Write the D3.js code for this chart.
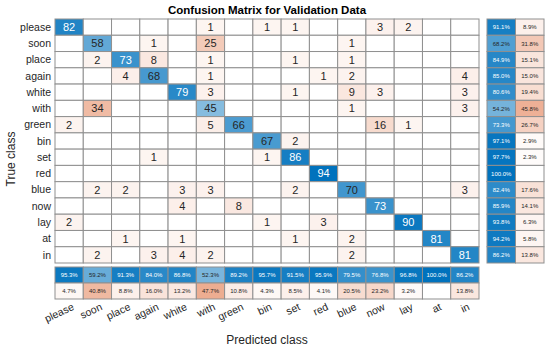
<!DOCTYPE html>
<html>
<head>
<meta charset="utf-8">
<script src="https://cdn.jsdelivr.net/npm/d3@7"></script>
<style>
  body { margin: 0; background: #fff; }
  svg { font-family: "Liberation Sans", Arial, sans-serif; }
</style>
</head>
<body>
<div id="chart"></div>
<script>
// class names, shared by both axes
const classes = ['please', 'soon', 'place', 'again', 'white', 'with', 'green', 'bin', 'set', 'red', 'blue', 'now', 'lay', 'at', 'in'];

// confusion counts, rows = true class, cols = predicted class
const counts = [
    [82, 0, 0, 0, 0, 1, 0, 1, 1, 0, 0, 3, 2, 0, 0],
    [0, 58, 0, 1, 0, 25, 0, 0, 0, 0, 1, 0, 0, 0, 0],
    [0, 2, 73, 8, 0, 1, 0, 0, 1, 0, 1, 0, 0, 0, 0],
    [0, 0, 4, 68, 0, 1, 0, 0, 0, 1, 2, 0, 0, 0, 4],
    [0, 0, 0, 0, 79, 3, 0, 0, 1, 0, 9, 3, 0, 0, 3],
    [0, 34, 0, 0, 0, 45, 0, 0, 0, 0, 1, 0, 0, 0, 3],
    [2, 0, 0, 0, 0, 5, 66, 0, 0, 0, 0, 16, 1, 0, 0],
    [0, 0, 0, 0, 0, 0, 0, 67, 2, 0, 0, 0, 0, 0, 0],
    [0, 0, 0, 1, 0, 0, 0, 1, 86, 0, 0, 0, 0, 0, 0],
    [0, 0, 0, 0, 0, 0, 0, 0, 0, 94, 0, 0, 0, 0, 0],
    [0, 2, 2, 0, 3, 3, 0, 0, 2, 0, 70, 0, 0, 0, 3],
    [0, 0, 0, 0, 4, 0, 8, 0, 0, 0, 0, 73, 0, 0, 0],
    [2, 0, 0, 0, 0, 0, 0, 1, 0, 3, 0, 0, 90, 0, 0],
    [0, 0, 1, 0, 1, 0, 0, 0, 1, 0, 2, 0, 0, 81, 0],
    [0, 2, 0, 3, 4, 2, 0, 0, 0, 0, 2, 0, 0, 0, 81]
];

// row summary (per true class) and column summary (per predicted class), in percent
const rowCorrect = [91.1, 68.2, 84.9, 85.0, 80.6, 54.2, 73.3, 97.1, 97.7, 100.0, 82.4, 85.9, 93.8, 94.2, 86.2];
const rowWrong = [8.9, 31.8, 15.1, 15.0, 19.4, 45.8, 26.7, 2.9, 2.3, 0, 17.6, 14.1, 6.3, 5.8, 13.8];
const colCorrect = [95.3, 59.2, 91.3, 84.0, 86.8, 52.3, 89.2, 95.7, 91.5, 95.9, 79.5, 76.8, 96.8, 100.0, 86.2];
const colWrong = [4.7, 40.8, 8.8, 16.0, 13.2, 47.7, 10.8, 4.3, 8.5, 4.1, 20.5, 23.2, 3.2, 0, 13.8];

const width = 550, height = 351;
const grid = { left: 55, top: 19, right: 479, bottom: 263 };
const blue = '#0072bd', orange = '#d95319';
const textColor = '#262626', lineColor = '#8f8f8f';

const svg = d3.select('#chart').append('svg')
    .attr('width', width)
    .attr('height', height);

const x = d3.scaleBand().domain(classes).range([grid.left, grid.right]);
const y = d3.scaleBand().domain(classes).range([grid.top, grid.bottom]);
const maxCount = d3.max(counts.flat());

const blueScale = d3.interpolateRgb('#ffffff', blue);
const orangeScale = d3.interpolateRgb('#ffffff', orange);

const cells = [];
counts.forEach((row, i) => row.forEach((v, j) => {
    cells.push({ t: classes[i], p: classes[j], v, diag: i === j });
}));

function cellFill(d) {
    if (d.v === 0) return '#ffffff';
    const k = d.v / maxCount;
    return d.diag ? blueScale(k) : orangeScale(0.05 + 0.95 * k);
}

const main = svg.append('g').attr('class', 'main');

main.selectAll('rect.cell')
    .data(cells)
    .enter()
    .append('rect')
    .attr('class', 'cell')
    .attr('x', d => x(d.p))
    .attr('y', d => y(d.t))
    .attr('width', x.bandwidth())
    .attr('height', y.bandwidth())
    .attr('fill', cellFill)
    .attr('stroke', lineColor)
    .attr('stroke-width', 1);

main.selectAll('text.val')
    .data(cells.filter(d => d.v > 0))
    .enter()
    .append('text')
    .attr('class', 'val')
    .attr('x', d => x(d.p) + x.bandwidth() / 2)
    .attr('y', d => y(d.t) + y.bandwidth() / 2)
    .attr('dy', '0.36em')
    .attr('text-anchor', 'middle')
    .attr('font-size', 11)
    .attr('fill', d => (d.diag && d.v / maxCount > 0.76) ? '#ffffff' : textColor)
    .text(d => d.v);

// row summary on the right
const sx = d3.scaleBand().domain(['ok', 'bad']).range([487, 544]);
const rowSum = classes.map((c, i) => [
    { c, k: 'ok', pct: rowCorrect[i] },
    { c, k: 'bad', pct: rowWrong[i] }
]).flat();

function sumFill(d) {
    if (d.pct === 0) return '#ffffff';
    return d.k === 'ok' ? blueScale(d.pct / 100) : orangeScale(d.pct / 100);
}
function sumText(d) {
    return (d.k === 'ok' && d.pct > 70) ? '#ffffff' : textColor;
}

const right = svg.append('g');
right.selectAll('rect')
    .data(rowSum)
    .enter()
    .append('rect')
    .attr('x', d => sx(d.k))
    .attr('y', d => y(d.c))
    .attr('width', sx.bandwidth())
    .attr('height', y.bandwidth())
    .attr('fill', sumFill)
    .attr('stroke', lineColor);

right.selectAll('text')
    .data(rowSum.filter(d => d.pct > 0))
    .enter()
    .append('text')
    .attr('x', d => sx(d.k) + sx.bandwidth() / 2)
    .attr('y', d => y(d.c) + y.bandwidth() / 2)
    .attr('dy', '0.35em')
    .attr('text-anchor', 'middle')
    .attr('font-size', 6)
    .attr('fill', sumText)
    .text(d => d.pct.toFixed(1) + '%');

// column summary below
const sy = d3.scaleBand().domain(['ok', 'bad']).range([267, 299]);
const colSum = classes.map((c, i) => [
    { c, k: 'ok', pct: colCorrect[i] },
    { c, k: 'bad', pct: colWrong[i] }
]).flat();

const bottom = svg.append('g');
bottom.selectAll('rect')
    .data(colSum)
    .enter()
    .append('rect')
    .attr('x', d => x(d.c))
    .attr('y', d => sy(d.k))
    .attr('width', x.bandwidth())
    .attr('height', sy.bandwidth())
    .attr('fill', sumFill)
    .attr('stroke', lineColor);

bottom.selectAll('text')
    .data(colSum.filter(d => d.pct > 0))
    .enter()
    .append('text')
    .attr('x', d => x(d.c) + x.bandwidth() / 2)
    .attr('y', d => sy(d.k) + sy.bandwidth() / 2)
    .attr('dy', '0.35em')
    .attr('text-anchor', 'middle')
    .attr('font-size', 6)
    .attr('fill', sumText)
    .text(d => d.pct.toFixed(1) + '%');

// row labels
svg.append('g').selectAll('text')
    .data(classes)
    .enter()
    .append('text')
    .attr('x', grid.left - 4)
    .attr('y', d => y(d) + y.bandwidth() / 2)
    .attr('dy', '0.35em')
    .attr('text-anchor', 'end')
    .attr('font-size', 10.5)
    .attr('fill', textColor)
    .text(d => d);

// column labels, slanted
svg.append('g').selectAll('text')
    .data(classes)
    .enter()
    .append('text')
    .attr('transform', d => `translate(${x(d) + x.bandwidth() / 2 + 4}, 306) rotate(-25)`)
    .attr('dy', '0.35em')
    .attr('text-anchor', 'end')
    .attr('font-size', 10.5)
    .attr('fill', textColor)
    .text(d => d);

// title and axis titles
svg.append('text')
    .attr('x', (grid.left + grid.right) / 2)
    .attr('y', 14)
    .attr('text-anchor', 'middle')
    .attr('font-size', 11.5)
    .attr('font-weight', 'bold')
    .attr('fill', '#000')
    .text('Confusion Matrix for Validation Data');

svg.append('text')
    .attr('x', (grid.left + grid.right) / 2)
    .attr('y', 344)
    .attr('text-anchor', 'middle')
    .attr('font-size', 12)
    .attr('fill', textColor)
    .text('Predicted class');

svg.append('text')
    .attr('transform', `translate(15, ${(grid.top + 299) / 2}) rotate(-90)`)
    .attr('text-anchor', 'middle')
    .attr('font-size', 12)
    .attr('fill', textColor)
    .text('True class');
</script>
</body>
</html>
